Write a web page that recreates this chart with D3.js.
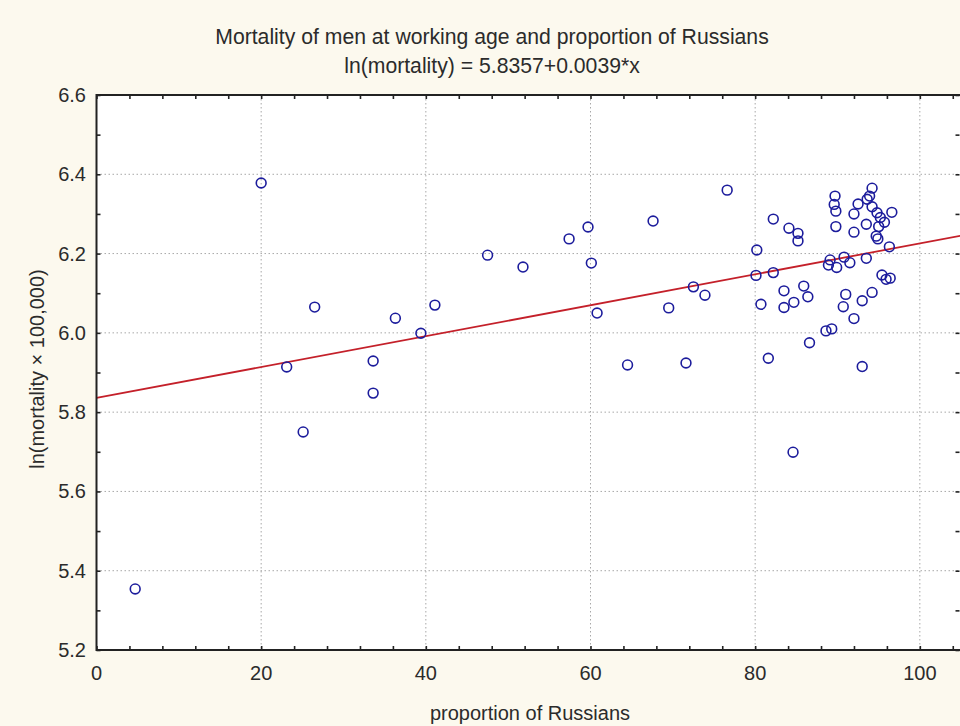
<!DOCTYPE html>
<html>
<head>
<meta charset="utf-8">
<script src="https://cdn.jsdelivr.net/npm/d3@7"></script>
<style>
  html, body { margin: 0; padding: 0; background: #fcf9ee; }
  svg { display: block; }
  text { font-family: "Liberation Sans", Arial, sans-serif; fill: #2b2b2b; }
</style>
</head>
<body>
<svg id="chart" width="960" height="726"></svg>
<script>
// Proportion of Russians in the region (%)
const proportion = [
  4.7, 20.0, 23.1, 25.1, 26.5, 33.6, 33.6, 36.3, 39.4, 41.1,
  47.5, 51.8, 57.4, 59.7, 60.1, 60.8, 64.5, 67.6, 69.5, 71.6,
  72.5, 73.9, 76.6,
  80.2, 80.1, 82.2, 82.2, 84.1, 85.2, 85.2, 89.7, 89.6, 89.8,
  89.8, 92.0, 92.5, 92.0, 93.5, 94.2, 93.9, 93.6, 94.2, 94.8,
  95.2, 95.7, 96.6, 95.0, 94.7, 94.9, 96.3, 89.1, 88.9, 89.9,
  90.8, 91.5, 93.5, 95.4, 95.9, 96.4, 80.7, 83.5, 83.5, 84.7,
  85.9, 86.4, 81.6, 86.6, 88.6, 89.3, 91.0, 90.7, 92.0, 93.0,
  94.2, 93.0, 84.6
];
// ln(mortality x 100,000) of working-age men
const lnMortality = [
  5.354, 6.378, 5.914, 5.750, 6.065, 5.929, 5.848, 6.037, 5.999, 6.070,
  6.196, 6.166, 6.237, 6.267, 6.176, 6.050, 5.919, 6.282, 6.063, 5.924,
  6.116, 6.095, 6.360,
  6.209, 6.145, 6.152, 6.287, 6.264, 6.251, 6.232, 6.345, 6.324, 6.307,
  6.268, 6.300, 6.325, 6.254, 6.274, 6.365, 6.345, 6.337, 6.318, 6.303,
  6.291, 6.279, 6.304, 6.268, 6.244, 6.237, 6.217, 6.184, 6.171, 6.165,
  6.191, 6.177, 6.188, 6.146, 6.135, 6.138, 6.072, 6.106, 6.064, 6.077,
  6.118, 6.091, 5.936, 5.975, 6.005, 6.010, 6.097, 6.066, 6.036, 6.081,
  6.102, 5.915, 5.699
];
// Fitted regression: ln(mortality) = intercept + slope * x
const intercept = 5.8357;
const slope = 0.0039;

const xTicks = [0, 20, 40, 60, 80, 100];
const yTicks = [5.2, 5.4, 5.6, 5.8, 6.0, 6.2, 6.4, 6.6];
const xMinorTicks = d3.range(0, 105.01, 4);
const yMinorTicks = d3.range(5.2, 6.601, 0.1);

const titleText = "Mortality of men at working age and proportion of Russians";
const subtitleText = "ln(mortality) = 5.8357+0.0039*x";
const xLabel = "proportion of Russians";
const yLabel = "ln(mortality \u00d7 100,000)";

const svg = d3.select("#chart");
const plotL = 96.5, plotR = 961, plotT = 95, plotB = 650;
const fontSize = 20;
const titleSize = 21.2;

const x = d3.scaleLinear().domain([0, 105]).range([plotL, plotR]);
const y = d3.scaleLinear().domain([5.2, 6.6]).range([plotB, plotT]);

// plot area
svg.append("rect")
  .attr("x", plotL).attr("y", plotT)
  .attr("width", plotR - plotL).attr("height", plotB - plotT)
  .attr("fill", "#ffffff");

// dotted grid
const grid = svg.append("g").attr("stroke", "#a8a8a8").attr("stroke-width", 1)
  .attr("stroke-dasharray", "1.5,2.5");
grid.selectAll("line.v").data(xTicks.filter(d => d > 0)).join("line")
  .attr("x1", d => x(d)).attr("x2", d => x(d))
  .attr("y1", plotT).attr("y2", plotB);
grid.selectAll("line.h").data(yTicks.filter(d => d > 5.2 && d < 6.6)).join("line")
  .attr("x1", plotL).attr("x2", plotR)
  .attr("y1", d => y(d)).attr("y2", d => y(d));

// regression line
svg.append("line")
  .attr("x1", x(0)).attr("y1", y(intercept))
  .attr("x2", x(105)).attr("y2", y(intercept + slope * 105))
  .attr("stroke", "#c4202a").attr("stroke-width", 1.8);

// scatter points
svg.append("g").selectAll("circle").data(proportion.map((p, i) => [p, lnMortality[i]]))
  .join("circle")
  .attr("cx", d => x(d[0])).attr("cy", d => y(d[1]))
  .attr("r", 4.9)
  .attr("fill", "none")
  .attr("stroke", "#1c1c9c")
  .attr("stroke-width", 1.6);

// axes with inward ticks on all four sides
const tickLen = 4;
const axisG = svg.append("g");
axisG.append("g").attr("transform", `translate(0,${plotB})`)
  .call(d3.axisTop(x).tickValues(xMinorTicks).tickSize(tickLen).tickFormat(""))
  .call(g => g.select(".domain").remove());
axisG.append("g").attr("transform", `translate(0,${plotT})`)
  .call(d3.axisBottom(x).tickValues(xMinorTicks).tickSize(tickLen).tickFormat(""))
  .call(g => g.select(".domain").remove());
axisG.append("g").attr("transform", `translate(${plotL},0)`)
  .call(d3.axisRight(y).tickValues(yMinorTicks).tickSize(tickLen).tickFormat(""))
  .call(g => g.select(".domain").remove());
axisG.append("g").attr("transform", `translate(${plotR - 1.5},0)`)
  .call(d3.axisLeft(y).tickValues(yMinorTicks).tickSize(tickLen).tickFormat(""))
  .call(g => g.select(".domain").remove());
axisG.selectAll(".tick line").attr("stroke", "#222").attr("stroke-width", 1.6);

// frame
svg.append("rect")
  .attr("x", plotL).attr("y", plotT)
  .attr("width", plotR - plotL).attr("height", plotB - plotT)
  .attr("fill", "none").attr("stroke", "#222").attr("stroke-width", 2);

// tick labels
svg.append("g").selectAll("text").data(xTicks).join("text")
  .attr("x", d => x(d)).attr("y", 680)
  .attr("text-anchor", "middle").attr("font-size", fontSize)
  .text(d => d3.format("d")(d));
svg.append("g").selectAll("text").data(yTicks).join("text")
  .attr("x", 86).attr("y", d => y(d) + 7)
  .attr("text-anchor", "end").attr("font-size", fontSize)
  .text(d => d3.format(".1f")(d));

// titles
svg.append("text").attr("x", 492).attr("y", 44)
  .attr("text-anchor", "middle").attr("font-size", titleSize).text(titleText);
svg.append("text").attr("x", 492).attr("y", 73)
  .attr("text-anchor", "middle").attr("font-size", titleSize).text(subtitleText);
svg.append("text").attr("x", 530).attr("y", 720)
  .attr("text-anchor", "middle").attr("font-size", fontSize).text(xLabel);
svg.append("text")
  .attr("transform", "translate(44,369) rotate(-90)")
  .attr("text-anchor", "middle").attr("font-size", fontSize).text(yLabel);
</script>
</body>
</html>
